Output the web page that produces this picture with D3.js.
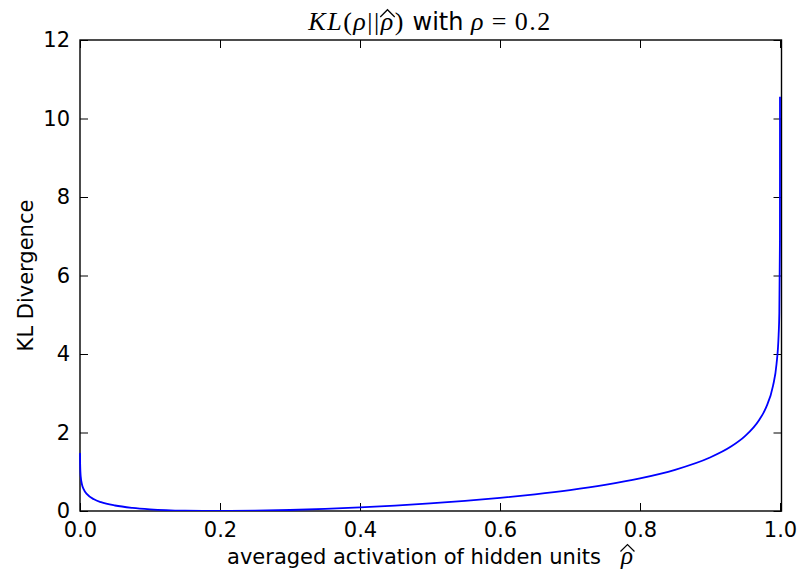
<!DOCTYPE html>
<html>
<head>
<meta charset="utf-8">
<script src="https://cdn.jsdelivr.net/npm/d3@7"></script>
<style>
  html, body { margin: 0; padding: 0; background: #fff; }
  svg { display: block; }
</style>
</head>
<body>
<svg id="chart" width="800" height="570"></svg>
<script>
// ---- data ----
const rhoHat = [0.00005, 0.0002, 0.001, 0.003, 0.005, 0.01, 0.02, 0.03, 0.05, 0.075,
  0.1, 0.15, 0.2, 0.25, 0.3, 0.35, 0.4, 0.45, 0.5, 0.55, 0.6, 0.65, 0.7, 0.75, 0.8,
  0.85, 0.9, 0.93, 0.95, 0.97, 0.98, 0.99, 0.995, 0.998, 0.999, 0.9999, 0.99999, 0.999999];
const klValues = [1.48, 1.203, 0.882, 0.664, 0.563, 0.429, 0.298, 0.225, 0.140, 0.080,
  0.044, 0.009, 0.0, 0.007, 0.026, 0.054, 0.092, 0.138, 0.193, 0.258, 0.335, 0.426, 0.534, 0.666, 0.832,
  1.050, 1.363, 1.642, 1.907, 2.311, 2.633, 3.186, 3.739, 4.472, 5.026, 6.868, 8.710, 10.552];
const xTicks = [0.0, 0.2, 0.4, 0.6, 0.8, 1.0];
const yTicks = [0, 2, 4, 6, 8, 10, 12];
const xDomain = [0, 1];
const yDomain = [0, 12];
const xLabelText = "averaged activation of hidden units";
const yLabelText = "KL Divergence";

// ---- layout ----
const svg = d3.select("#chart");
const L = 80, R = 780, T = 40, B = 511;
const x = d3.scaleLinear().domain(xDomain).range([L, R]);
const y = d3.scaleLinear().domain(yDomain).range([B, T]);
const tickLen = 8;
const sansFont = "'DejaVu Sans', sans-serif";
const mathFont = "'Liberation Serif', 'DejaVu Serif', serif";

svg.append("rect").attr("width", 800).attr("height", 570).attr("fill", "#fff");

// frame (drawn under the curve)
svg.append("rect").attr("x", L).attr("y", T).attr("width", R - L + 1.5).attr("height", B - T)
  .attr("fill", "none").attr("stroke", "#000").attr("stroke-width", 1.4);

// axes (ticks inward on all sides)
const fmtX = d3.format(".1f");
const axBottom = d3.axisBottom(x).tickValues(xTicks).tickFormat(fmtX).tickSizeInner(-tickLen).tickSizeOuter(0).tickPadding(11);
const axTop = d3.axisTop(x).tickValues(xTicks).tickFormat("").tickSizeInner(-tickLen).tickSizeOuter(0);
const axLeft = d3.axisLeft(y).tickValues(yTicks).tickFormat(d3.format("d")).tickSizeInner(-tickLen).tickSizeOuter(0).tickPadding(10);
const axRight = d3.axisRight(y).tickValues(yTicks).tickFormat("").tickSizeInner(-tickLen).tickSizeOuter(0);

function styleAxis(g) {
  g.select(".domain").remove();
  g.selectAll(".tick line").attr("stroke", "#000").attr("stroke-width", 1);
  g.selectAll(".tick text").attr("fill", "#000").style("font-family", sansFont).style("font-size", "21px");
}
svg.append("g").attr("transform", `translate(0,${B})`).call(axBottom).call(styleAxis);
svg.append("g").attr("transform", `translate(0,${T})`).call(axTop).call(styleAxis);
svg.append("g").attr("transform", `translate(${L},0)`).call(axLeft).call(styleAxis);
svg.append("g").attr("transform", `translate(${R + 1.5},0)`).call(axRight).call(styleAxis);

// clip
svg.append("clipPath").attr("id", "clip")
  .append("rect").attr("x", L - 1).attr("y", T).attr("width", R - L + 2).attr("height", B - T);

// line
const pts = rhoHat.map((v, i) => [v, klValues[i]]);
const line = d3.line().x(d => x(d[0])).y(d => y(d[1])).curve(d3.curveMonotoneX);
svg.append("path")
  .datum(pts)
  .attr("clip-path", "url(#clip)")
  .attr("fill", "none")
  .attr("stroke", "#0000ff")
  .attr("stroke-width", 1.8)
  .attr("d", line);

// y label
svg.append("text")
  .attr("transform", `translate(33,${(T + B) / 2}) rotate(-90)`)
  .attr("text-anchor", "middle")
  .style("font-family", sansFont).style("font-size", "21px").attr("fill", "#000")
  .text(yLabelText);

// x label with math rho-hat
const xl = svg.append("text")
  .attr("x", (L + R) / 2).attr("y", 564)
  .attr("text-anchor", "middle")
  .style("font-family", sansFont).style("font-size", "21px").attr("fill", "#000");
xl.append("tspan").text(xLabelText + "\u00a0\u00a0\u00a0");
xl.append("tspan").style("font-family", mathFont).style("font-style", "italic").style("font-size", "25px").text("ρ");

// title
const titleSize = 26;
const tt = svg.append("text")
  .attr("x", (L + R) / 2).attr("y", 30)
  .attr("text-anchor", "middle")
  .style("font-size", titleSize + "px").attr("fill", "#000");
const mi = s => tt.append("tspan").style("font-family", mathFont).style("font-style", "italic").style("letter-spacing", "1.5px").text(s);
const mu = s => tt.append("tspan").style("font-family", mathFont).style("font-style", "normal").style("letter-spacing", "1.5px").text(s);
mi("KL"); mu("("); mi("ρ"); mu("||"); mi("ρ"); mu(")");
tt.append("tspan").style("font-family", sansFont).style("font-size", "24px").style("letter-spacing", "0px").text("\u00a0with\u00a0");
mi("ρ"); mu("\u2009=\u20090.2");

// draw wide hats over the hatted rhos
function hatOver(textNode, charIndex, baseline, size, extra) {
  const ext = textNode.getExtentOfChar(charIndex);
  const x0 = ext.x - 0.5, x1 = ext.x + ext.width - extra + 1.5;
  const yTop = baseline - 0.78 * size;
  const yBase = baseline - 0.5 * size;
  svg.append("path")
    .attr("d", `M${x0},${yBase} L${(x0 + x1) / 2},${yTop} L${x1},${yBase}`)
    .attr("fill", "none").attr("stroke", "#000").attr("stroke-width", 1.2);
}
// title string: K L ( ρ | | ρ ) -> hatted rho at index 6
hatOver(tt.node(), 6, 30, titleSize, 1.5);
const xlText = xLabelText + "\u00a0\u00a0\u00a0ρ";
hatOver(xl.node(), xlText.length - 1, 564, 25, 0);
</script>
</body>
</html>
